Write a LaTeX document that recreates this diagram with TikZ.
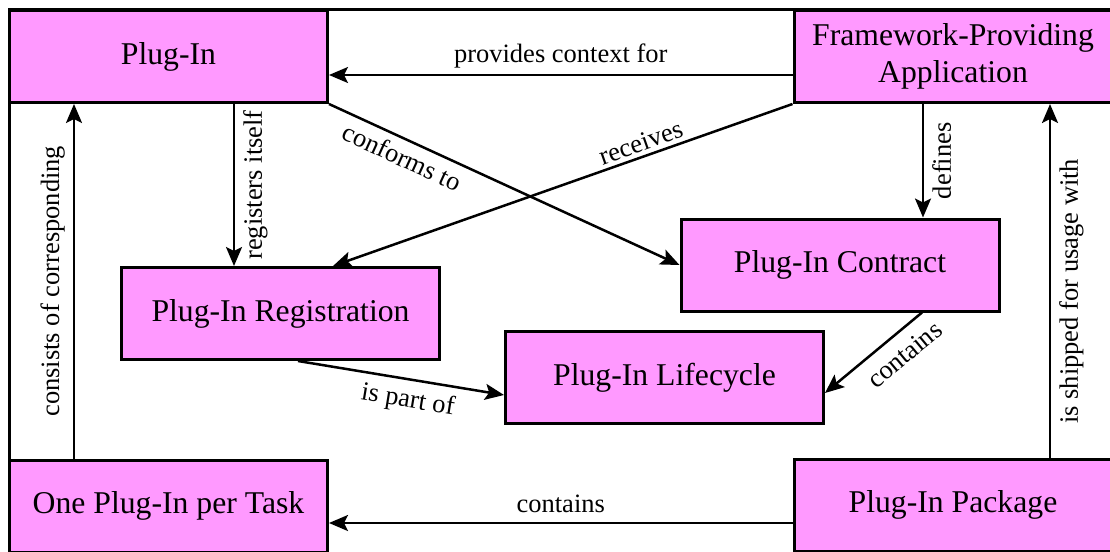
\documentclass[tikz,border=0pt]{standalone}
\usepackage{fontspec}
\setmainfont{Liberation Serif}
\usetikzlibrary{arrows.meta}
\definecolor{boxpink}{RGB}{255,153,255}
\begin{document}
\begin{tikzpicture}[x=1pt,y=-1pt,
  box/.style={draw=black,line width=3pt,fill=boxpink,minimum width=318pt,minimum height=92pt,inner sep=0pt,align=center,font=\fontsize{31.7}{37}\selectfont},
  conn/.style={line width=2.5pt,-{Stealth[length=19pt,width=16pt,inset=4pt]}},
  lbl/.style={font=\fontsize{26.5}{30}\selectfont,inner sep=4pt},
  vlbl/.style={lbl,inner sep=8pt,rotate=90}]
\clip (0,0) rectangle (1110,551);
\draw[line width=3pt] (9,10) rectangle (1113,553);
\node[box] (plugin) at (168.5,56.5) {Plug-In};
\node[box] (framework) at (953,56.5) {Framework-Providing\\Application};
\node[box] (reg) at (280.5,313.5) {Plug-In Registration};
\node[box] (contract) at (840,265) {Plug-In Contract};
\node[box] (lifecycle) at (664.5,377.5) {Plug-In Lifecycle};
\node[box] (onetask) at (168.5,506) {One Plug-In per Task};
\node[box] (package) at (953,505) {Plug-In Package};
\draw[conn] (framework.west |- 0,75) -- (plugin.east |- 0,75) node[lbl,midway,above,inner sep=6pt]{provides context for};
\draw[conn] (plugin.south -| 234,0) -- (reg.north -| 234,0) node[vlbl,midway,anchor=north]{registers itself};
\draw[conn] (plugin.south east) -- (contract.west) node[lbl,pos=0.23,sloped,below,inner sep=7pt]{conforms to};
\draw[conn] (framework.south west) -- (reg.north -| 333,0) node[lbl,pos=0.32,sloped,above]{receives};
\draw[conn] (framework.south -| 923,0) -- (contract.north -| 923,0) node[vlbl,midway,anchor=north]{defines};
\draw[conn] (contract.south -| 922,0) -- (lifecycle.east |- 0,393) node[lbl,pos=0.32,sloped,below,inner sep=11pt]{contains};
\draw[conn] (reg.south -| 298,0) -- (lifecycle.west |- 0,395) node[lbl,pos=0.55,sloped,below,inner sep=8pt]{is part of};
\draw[conn] (onetask.north -| 74,0) -- (plugin.south -| 74,0) node[vlbl,midway,anchor=south]{consists of corresponding};
\draw[conn] (package.west |- 0,523) -- (onetask.east |- 0,523) node[lbl,midway,above,inner sep=9pt]{contains};
\draw[conn] (package.north -| 1050,0) -- (framework.south -| 1050,0) node[vlbl,pos=0.47,anchor=north]{is shipped for usage with};
\end{tikzpicture}
\end{document}
